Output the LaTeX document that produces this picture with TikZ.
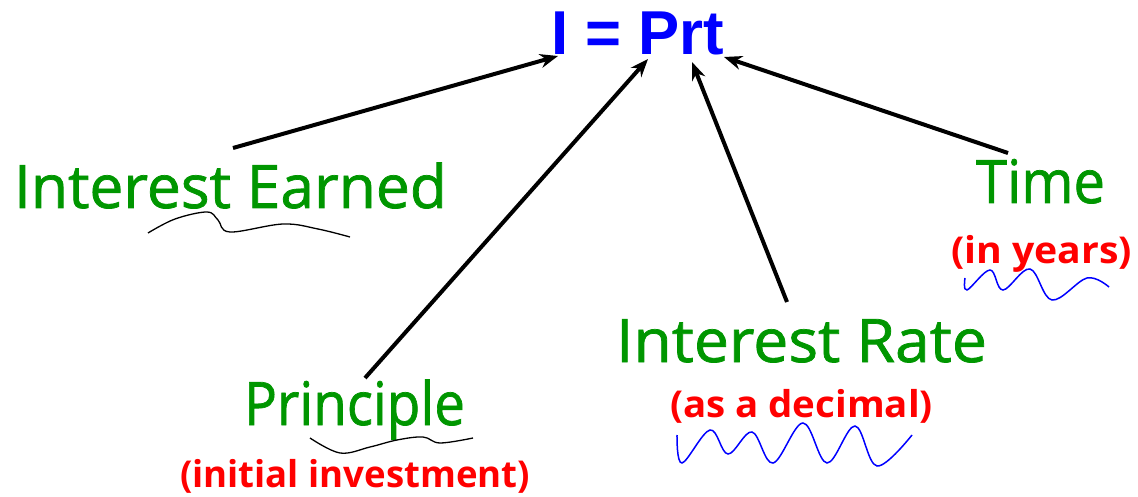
\documentclass[tikz,border=0pt]{standalone}
\usepackage{fontspec}
\setmainfont{Open Sans}
\newfontfamily\titlefont{Liberation Sans}
\newfontfamily\greenfont[FakeBold=1.2]{Open Sans}
\usetikzlibrary{arrows.meta}
\definecolor{tgreen}{RGB}{0,150,0}
\definecolor{tred}{RGB}{255,0,0}
\definecolor{tblue}{RGB}{0,0,255}
\newlength\mylen
\newcommand\fitw[2]{\settowidth\mylen{#2}\pgfmathsetmacro\myratio{#1/\mylen}\scalebox{\myratio}[1]{#2}}
\tikzset{
  lbl/.style={inner sep=0pt, outer sep=0pt, anchor=base west},
  greenlbl/.style={lbl, text=tgreen, font=\fontsize{60}{60}\greenfont\selectfont},
  redlbl/.style={lbl, text=tred, font=\fontsize{37}{37}\selectfont\bfseries},
  arr/.style={line width=4pt, -{Stealth[length=18pt,width=14pt]}, shorten >=0pt},
  blacksq/.style={line width=1.3pt, black},
  bluesq/.style={line width=1.5pt, tblue},
}
\begin{document}
\begin{tikzpicture}[x=1pt,y=-1pt]
\useasboundingbox (0,0) rectangle (1138,497);
% title
\node[lbl, text=tblue, font=\fontsize{62}{62}\selectfont\titlefont\bfseries] (title) at (551,55) {\fitw{173}{I = Prt}};
% labels
\node[greenlbl] (earned) at (14,208) {\fitw{433}{Interest Earned}};
\node[greenlbl] (princ) at (244,425) {\fitw{221}{Principle}};
\node[redlbl] (initial) at (180,487) {\fitw{350}{(initial investment)}};
\node[greenlbl] (rate) at (616,362) {\fitw{371}{Interest Rate}};
\node[redlbl] (decimal) at (670,417) {\fitw{263}{(as a decimal)}};
\node[greenlbl] (time) at (976,203) {\fitw{129}{Time}};
\node[redlbl] (years) at (951,264) {\fitw{181}{(in years)}};
% arrow end points
\coordinate (s1) at (233,148); \coordinate (e1) at (558,56);
\coordinate (s2) at (365,378); \coordinate (e2) at (648,59);
\coordinate (s3) at (787,302); \coordinate (e3) at (692,62);
\coordinate (s4) at (1008,153); \coordinate (e4) at (724,57);
\draw[arr] (s1) -- (e1);
\draw[arr] (s2) -- (e2);
\draw[arr] (s3) -- (e3);
\draw[arr] (s4) -- (e4);
% squiggles
\draw[blacksq] plot[smooth, tension=0.6] coordinates {(148,233) (175,219) (207,212) (218,220) (230,232) (283,224) (318,229) (350,237)};
\draw[blacksq] plot[smooth, tension=0.6] coordinates {(310,438) (340,453) (370,447) (397,440) (423,437) (440,443) (473,438)};
\draw[bluesq] plot[smooth, tension=0.6] coordinates {(677,435) (682,463) (710,430) (728,454) (752,432) (773,463) (803,423) (827,463) (855,426) (877,466) (912,435)};
\draw[bluesq] plot[smooth, tension=0.6] coordinates {(965,278) (967,290) (990,270) (1003,290) (1030,269) (1052,300) (1087,278) (1109,287)};
\end{tikzpicture}
\end{document}
